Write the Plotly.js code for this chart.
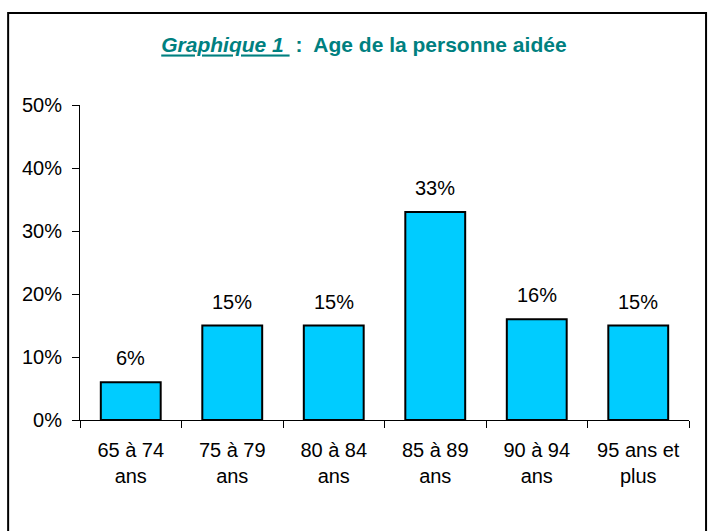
<!DOCTYPE html>
<html><head><meta charset="utf-8">
<script src="https://cdn.plot.ly/plotly-3.0.1.min.js"></script>
<style>html,body{margin:0;padding:0;background:#fff}</style>
</head><body>
<div id="chart" style="width:708px;height:531px"></div>
<script>
const categories = ["65 à 74<br>ans", "75 à 79<br>ans", "80 à 84<br>ans", "85 à 89<br>ans", "90 à 94<br>ans", "95 ans et<br>plus"];
const values = [6, 15, 15, 33, 16, 15];
const labels = ["6%", "15%", "15%", "33%", "16%", "15%"];
const yTickVals = [0, 10, 20, 30, 40, 50];
const yTickText = ["0%", "10%", "20%", "30%", "40%", "50%"];

const FONT = 'Liberation Sans, Arial';

const trace = {
  type: 'bar',
  x: categories,
  y: values,
  marker: {color: '#00CCFF', line: {color: '#000', width: 2}},
  hoverinfo: 'none'
};

const annotations = categories.map((c, i) => ({
  x: c, y: values[i], xref: 'x', yref: 'y',
  text: labels[i], showarrow: false,
  yanchor: 'bottom', yshift: 11,
  font: {family: FONT, size: 20, color: '#000'}
}));

const layout = {
  width: 708, height: 531,
  margin: {l: 80, r: 19, t: 105, b: 111},
  paper_bgcolor: '#fff', plot_bgcolor: '#fff',
  font: {family: FONT, size: 20, color: '#000'},
  bargap: 0.41,
  showlegend: false,
  title: {
    text: '<i><u>Graphique 1 </u></i> :  Age de la personne aidée',
    font: {family: FONT, size: 21, color: '#008080', weight: 'bold'},
    x: 0.514, xanchor: 'center', y: 0.915, yanchor: 'middle'
  },
  xaxis: {
    type: 'category',
    range: [-0.5, 5.5],
    showline: true, linecolor: '#000', linewidth: 1,
    ticks: 'outside', ticklen: 7, tickcolor: '#000', tickson: 'boundaries',
    ticklabelstandoff: 12,
    showgrid: false, zeroline: false,
    tickfont: {family: FONT, size: 20, color: '#000'}
  },
  yaxis: {
    range: [0, 50],
    tickvals: yTickVals, ticktext: yTickText,
    showline: true, linecolor: '#000', linewidth: 1,
    ticks: 'outside', ticklen: 7, tickcolor: '#000',
    ticklabelstandoff: 6,
    showgrid: false, zeroline: false,
    tickfont: {family: FONT, size: 20, color: '#000'}
  },
  annotations: annotations,
  shapes: [{
    type: 'rect', xref: 'paper', yref: 'paper',
    x0: -0.118, x1: 1.028, y0: -0.6, y1: 1.292,
    line: {color: '#000', width: 2}, fillcolor: 'rgba(0,0,0,0)', layer: 'below'
  }]
};

Plotly.newPlot('chart', [trace], layout, {displayModeBar: false, staticPlot: true});
</script>
</body></html>
